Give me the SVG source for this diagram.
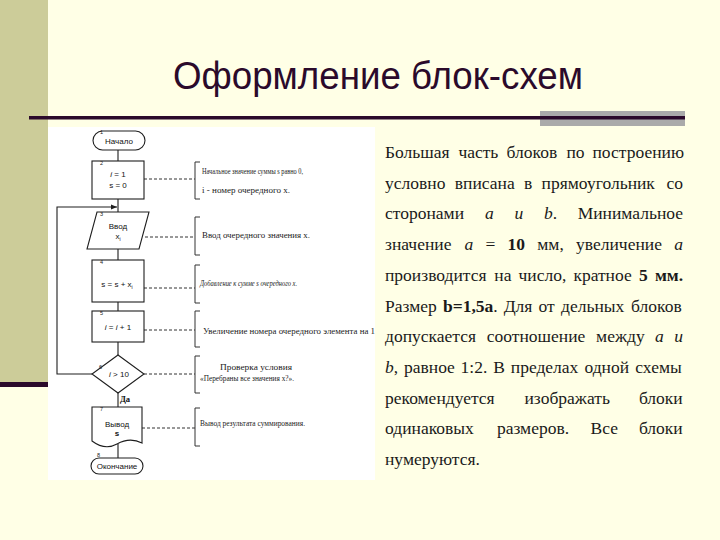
<svg xmlns="http://www.w3.org/2000/svg" width="720" height="540" viewBox="0 0 720 540">
<defs>
<style>
.fl{fill:none;stroke:#1e1e1e;stroke-width:1.1}
.sh{fill:#fff;stroke:#1e1e1e;stroke-width:1.1}
.da{fill:none;stroke:#333;stroke-width:1;stroke-dasharray:3 2}
.br{fill:none;stroke:#333;stroke-width:1}
.t{font-family:"Liberation Sans Narrow","Liberation Sans",Arial,sans-serif;font-size:8px;fill:#111;text-anchor:middle}
.num{font-family:"Liberation Sans",Arial,sans-serif;font-size:5.5px;fill:#222}
.an{font-family:"Liberation Serif","Times New Roman",serif;font-size:8px;fill:#222}
.p{font-family:"Liberation Serif","Times New Roman",serif;font-size:17.5px;fill:#1a1a1a}
.i{font-style:italic}
.b{font-weight:bold}
</style>
<marker id="ar" viewBox="0 0 6 6" refX="6" refY="3" markerWidth="6" markerHeight="6" orient="auto" markerUnits="userSpaceOnUse">
<path d="M0,0.5 L6,3 L0,5.5 Z" fill="#1e1e1e"/>
</marker>
</defs>

<rect width="720" height="540" fill="#FFFFE6"/>
<rect x="0" y="0" width="48" height="382" fill="#CCCC99"/>
<rect x="0" y="382" width="48" height="5" fill="#2B0A2B"/>

<g id="title">
<text x="378" y="89" text-anchor="middle" font-family="'Liberation Sans Narrow','Liberation Sans',Arial,sans-serif" font-size="39" textLength="410" lengthAdjust="spacingAndGlyphs" fill="#2B0A2B">Оформление блок-схем</text>
<rect x="540" y="111" width="145" height="15" fill="#AAAAAA"/>
<rect x="29" y="116" width="656" height="3.5" fill="#2B0A2B"/>
</g>

<rect id="scan" x="48" y="127" width="327" height="353" fill="#FFFFFF"/>

<g id="connectors">
<path class="fl" d="M118,150 V161 M118,199 V212 M118,249 V260 M118,302 V311 M118,342 V355 M118,393 V407 M118,444 V458"/>
<path class="fl" d="M92,374 H57 V207 H117" marker-end="url(#ar)"/>
<path class="da" d="M144,179 H195 M145,237 H195 M144,288 H195 M144,330 H195 M144,374 H195 M142,428 H195"/>
<path class="br" d="M200,162 H195 V199 H200 M200,217 H195 V255 H200 M200,265 H195 V303 H200 M200,311 H195 V347 H200 M200,356 H195 V393 H200 M200,408 H195 V446 H200"/>
</g>

<g id="n1">
<rect class="sh" x="93" y="131" width="52" height="19" rx="9.5"/>
<text class="num" x="100" y="134">1</text>
<text class="t" x="119" y="143.5">Начало</text>
</g>
<g id="n2">
<rect class="sh" x="92" y="161" width="52" height="38"/>
<text class="num" x="100" y="165">2</text>
<text class="t" x="118" y="177"><tspan class="i">i</tspan> = 1</text>
<text class="t" x="118" y="188">s = 0</text>
</g>
<g id="n3">
<polygon class="sh" points="97,212 149,212 139,249 87,249"/>
<text class="num" x="100" y="216">3</text>
<text class="t" x="118" y="229">Ввод</text>
<text class="t" x="118" y="239">x<tspan font-size="5" dy="1.5">i</tspan></text>
</g>
<g id="n4">
<rect class="sh" x="92" y="260" width="52" height="42"/>
<text class="num" x="100" y="264">4</text>
<text class="t" x="117" y="287">s = s + x<tspan font-size="5" dy="1.5">i</tspan></text>
</g>
<g id="n5">
<rect class="sh" x="92" y="311" width="52" height="31"/>
<text class="num" x="100" y="315">5</text>
<text class="t" x="118" y="330"><tspan class="i">i</tspan> = <tspan class="i">i</tspan> + 1</text>
</g>
<g id="n6">
<polygon class="sh" points="118,355 144,374 118,393 92,374"/>
<text class="num" x="99" y="369">6</text>
<text class="t" x="119" y="377"><tspan class="i">i</tspan> &gt; 10</text>
<text x="120" y="402" font-family="'Liberation Serif',serif" font-size="8.5" font-weight="bold" fill="#111">Да</text>
</g>
<g id="n7">
<path class="sh" d="M92,407 H142 V443 C134,439 126,439 117,444 C108,449 100,447 92,441 Z"/>
<text class="num" x="100" y="411">7</text>
<text class="t" x="117" y="427">Вывод</text>
<text class="t b" x="117" y="436">s</text>
</g>
<g id="n8">
<rect class="sh" x="91" y="458" width="52" height="16" rx="8"/>
<text class="num" x="97" y="457">8</text>
<text class="t" x="117" y="469">Окончание</text>
</g>

<g id="notes">
<text class="an" x="202" y="174" textLength="101" lengthAdjust="spacingAndGlyphs">Начальное значение суммы s равно 0,</text>
<text class="an" x="202" y="193" textLength="88" lengthAdjust="spacingAndGlyphs">i - номер очередного x.</text>
<text class="an" x="202" y="238" textLength="108" lengthAdjust="spacingAndGlyphs">Ввод очередного значения x.</text>
<text class="an i" x="200" y="286" textLength="97" lengthAdjust="spacingAndGlyphs">Добавление к сумме s очередного x.</text>
<text class="an" x="203" y="334" textLength="172" lengthAdjust="spacingAndGlyphs">Увеличение номера очередного элемента на 1</text>
<text class="an" x="220" y="370" textLength="72" lengthAdjust="spacingAndGlyphs">Проверка условия</text>
<text class="an" x="200" y="381" textLength="94" lengthAdjust="spacingAndGlyphs">«Перебраны все значения x?».</text>
<text class="an" x="200" y="426" textLength="105" lengthAdjust="spacingAndGlyphs">Вывод результата суммирования.</text>
</g>

<g id="paragraph">
<text class="p" y="158"><tspan x="385">Большая</tspan><tspan x="458.4">часть</tspan><tspan x="506.6">блоков</tspan><tspan x="566.4">по</tspan><tspan x="592.5">построению</tspan></text>
<text class="p" y="188.7"><tspan x="385">условно</tspan><tspan x="454.8">вписана</tspan><tspan x="523.9">в</tspan><tspan x="541.6">прямоугольник</tspan><tspan x="666.4">со</tspan></text>
<text class="p" y="219.4"><tspan x="385">сторонами</tspan><tspan x="485" class="i">a</tspan><tspan x="514.4" class="i">и</tspan><tspan x="543.9"><tspan class="i">b</tspan>.</tspan><tspan x="577.7">Минимальное</tspan></text>
<text class="p" y="250.1"><tspan x="385">значение</tspan><tspan x="464.4" class="i">a</tspan><tspan x="485.4">=</tspan><tspan x="507.5" class="b">10</tspan><tspan x="537.3">мм,</tspan><tspan x="576.1">увеличение</tspan><tspan x="674.3" class="i">a</tspan></text>
<text class="p" y="280.8"><tspan x="385">производится</tspan><tspan x="494.3">на</tspan><tspan x="518.5">число,</tspan><tspan x="573.4">кратное</tspan><tspan x="639.1" class="b">5</tspan><tspan x="654.9" class="b">мм.</tspan></text>
<text class="p" y="311.5"><tspan x="385">Размер</tspan><tspan x="443" class="b">b=1,5a</tspan>.<tspan x="503.7">Для</tspan><tspan x="538.6">от</tspan><tspan x="561">дельных</tspan><tspan x="631.1">блоков</tspan></text>
<text class="p" y="342.2"><tspan x="385">допускается</tspan><tspan x="486.8">соотношение</tspan><tspan x="596.1">между</tspan><tspan x="655.1" class="i">a</tspan><tspan x="674.3" class="i">и</tspan></text>
<text class="p" y="372.9"><tspan x="385"><tspan class="i">b</tspan>,</tspan><tspan x="404">равное</tspan><tspan x="460.6">1:2.</tspan><tspan x="493.2">В</tspan><tspan x="510.8">пределах</tspan><tspan x="584.4">одной</tspan><tspan x="635.3">схемы</tspan></text>
<text class="p" y="403.6"><tspan x="385">рекомендуется</tspan><tspan x="524.5">изображать</tspan><tspan x="638.9">блоки</tspan></text>
<text class="p" y="434.3"><tspan x="385">одинаковых</tspan><tspan x="496.9">размеров.</tspan><tspan x="590.5">Все</tspan><tspan x="638.9">блоки</tspan></text>
<text class="p" y="465"><tspan x="385">нумеруются.</tspan></text>
</g>
</svg>
